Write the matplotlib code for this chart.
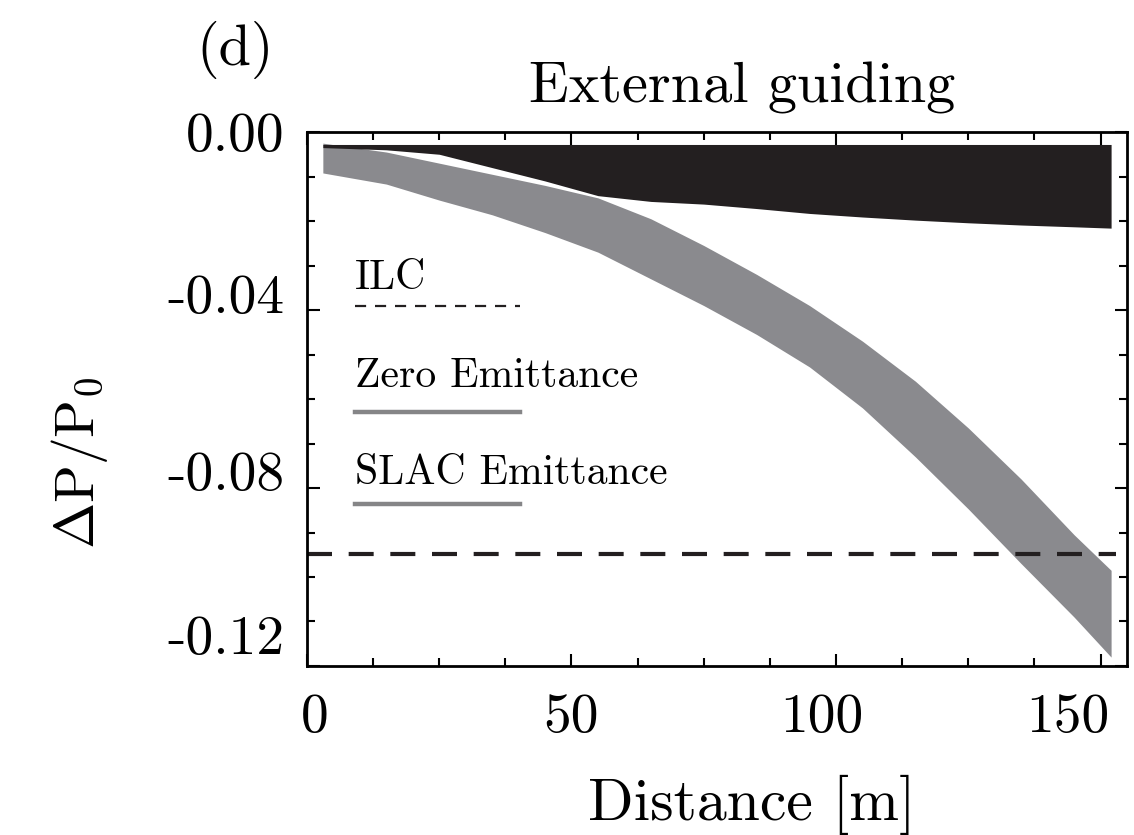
import numpy as np
import matplotlib.pyplot as plt
from matplotlib.lines import Line2D
from matplotlib.transforms import ScaledTranslation

plt.rcParams['font.family'] = 'cmr10'
plt.rcParams['mathtext.fontset'] = 'cm'
plt.rcParams['axes.unicode_minus'] = False
plt.rcParams['axes.formatter.use_mathtext'] = True

# distance along the guide [m]
dist = [3, 15, 25, 35, 45, 55, 65, 75, 85, 95, 105, 115, 125, 135, 145, 152]

# zero emittance (black) envelope
black_top = [-0.0028, -0.0028, -0.0028, -0.0028, -0.0028, -0.0028, -0.0028, -0.0028,
             -0.0028, -0.0028, -0.0028, -0.0028, -0.0028, -0.0028, -0.0028, -0.0028]
black_bot = [-0.0035, -0.0040, -0.0050, -0.0080, -0.0110, -0.0143, -0.0156, -0.0162,
             -0.0172, -0.0183, -0.0191, -0.0198, -0.0204, -0.0209, -0.0213, -0.0216]

# SLAC emittance (gray) envelope
gray_top = [-0.0025, -0.0045, -0.0070, -0.0095, -0.0120, -0.0148, -0.0195, -0.0255,
            -0.0320, -0.0390, -0.0470, -0.0560, -0.0665, -0.0780, -0.0905, -0.0985]
gray_bot = [-0.0092, -0.0117, -0.0153, -0.0186, -0.0226, -0.0270, -0.0330, -0.0390,
            -0.0455, -0.0528, -0.0620, -0.0730, -0.0847, -0.0970, -0.1090, -0.1180]

ilc_level = -0.0948
ilc_x = [0, 153]

xticks = [0, 50, 100, 150]
xlabels = ['0', '50', '100', '150']
yticks = [0.0, -0.04, -0.08, -0.12]
ylabels = ['0.00', '-0.04', '-0.08', '-0.12']

fig = plt.figure(figsize=(11.34, 8.35), dpi=100)
ax = fig.add_axes([0.2707, 0.2024, 0.7231, 0.6395])

ax.fill_between(dist, gray_top, gray_bot, color='#8a8a8e', lw=0)
ax.fill_between(dist, black_top, black_bot, color='#231f20', lw=0)
ax.plot(ilc_x, [ilc_level, ilc_level], color='#231f20', lw=3, ls=(0, (6, 4)))

# legend drawn by hand: label above its line
tr = ax.transAxes
ax.text(0.0585, 0.727, 'ILC', transform=tr, fontsize=30, va='center')
ax.add_line(Line2D([0.0585, 0.26], [0.674, 0.674], transform=tr, color='#231f20',
                   lw=1.6, ls=(0, (5, 4))))
ax.text(0.0585, 0.543, 'Zero Emittance', transform=tr, fontsize=30, va='center')
ax.add_line(Line2D([0.0585, 0.26], [0.476, 0.476], transform=tr, color='#858587', lw=3.2))
ax.text(0.0585, 0.360, 'SLAC Emittance', transform=tr, fontsize=30, va='center')
ax.add_line(Line2D([0.0585, 0.26], [0.303, 0.303], transform=tr, color='#858587', lw=3.2))

ax.set_xlim(0, 155)
ax.set_ylim(-0.12, 0.0)
ax.set_xticks(xticks)
ax.set_xticklabels(xlabels)
ax.set_xticks(np.arange(0, 155, 12.5), minor=True)
ax.set_yticks(yticks)
ax.set_yticklabels(ylabels)
ax.set_yticks(np.arange(-0.12, 0.001, 0.01), minor=True)

ax.tick_params(which='both', direction='in', top=True, right=True, labelsize=40, width=1.5)
ax.tick_params(which='major', length=9)
ax.tick_params(which='minor', length=6)
ax.tick_params(axis='x', pad=20)
ax.tick_params(axis='y', pad=16)
for s in ax.spines.values():
    s.set_linewidth(2)

# the original labels sit a little off their ticks
for lab, dx in zip(ax.get_xticklabels(), [5.8, 0, -10, -23.8]):
    lab.set_transform(lab.get_transform() + ScaledTranslation(dx / 72, 0, fig.dpi_scale_trans))
for lab, dy in zip(ax.get_yticklabels(), [0, 11.5, 12.2, 22.3]):
    lab.set_transform(lab.get_transform() + ScaledTranslation(0, dy / 72, fig.dpi_scale_trans))

fig.text(752 / 1134, 1 - 805 / 835, 'Distance [m]', fontsize=43, ha='center', va='center')
fig.text(80 / 1134, 1 - 463 / 835, r'$\Delta\mathrm{P}/\mathrm{P}_0$', fontsize=40,
         rotation=90, ha='center', va='center')

fig.text(742 / 1134, 1 - 102 / 835, 'External guiding', fontsize=42, ha='center', va='baseline')
fig.text(235 / 1134, 1 - 50 / 835, '(d)', fontsize=42, ha='center', va='center')

fig.savefig('out.png', dpi=100)
